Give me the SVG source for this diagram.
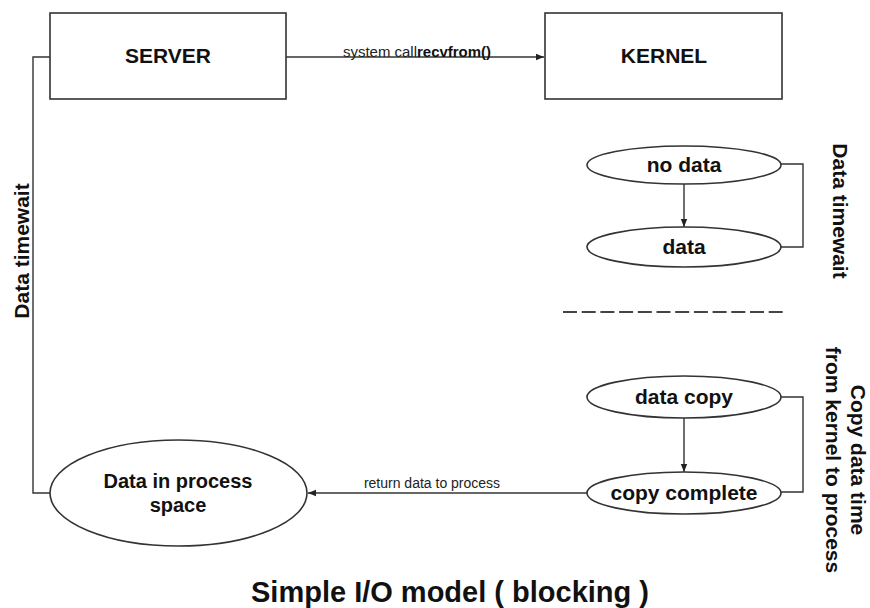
<svg xmlns="http://www.w3.org/2000/svg" width="870" height="608" viewBox="0 0 870 608">
<style>
.shape{fill:#fff;stroke:#333;stroke-width:1.6}
.line{fill:none;stroke:#333;stroke-width:1.4}
.b{font-family:"Liberation Sans",Arial,sans-serif;font-weight:bold;fill:#111}
.r{font-family:"Liberation Sans",Arial,sans-serif;fill:#222}
</style>
<defs>
<marker id="arr" viewBox="0 0 10 10" refX="10" refY="5" markerWidth="8" markerHeight="8" markerUnits="userSpaceOnUse" orient="auto">
<path d="M0,1 L10,5 L0,9 z" fill="#222"/>
</marker>
</defs>
<rect width="870" height="608" fill="#fff"/>
<g id="connectors">
<path class="line" d="M50,57 H33 V493 H50"/>
<path class="line" d="M286,57 H544" marker-end="url(#arr)"/>
<path class="line" d="M684,183 V227" marker-end="url(#arr)"/>
<path class="line" d="M781,164 H803 V247 H781"/>
<path class="line" d="M684,418 V472" marker-end="url(#arr)"/>
<path class="line" d="M781,397 H803 V492 H781"/>
<path class="line" d="M587,493 H308" marker-end="url(#arr)"/>
<line x1="563" y1="312" x2="783" y2="312" stroke="#444" stroke-width="2.2" stroke-dasharray="14,4.7"/>
<text class="r" x="343" y="57" font-size="14" textLength="148" lengthAdjust="spacingAndGlyphs">system call<tspan class="b" font-weight="bold">recvfrom()</tspan></text>
<text class="r" x="432" y="488" font-size="14" text-anchor="middle">return data to process</text>
</g>
<g id="server">
<rect class="shape" x="50" y="13" width="236" height="86"/>
<text class="b" x="168" y="63" font-size="21" text-anchor="middle">SERVER</text>
</g>
<g id="kernel">
<rect class="shape" x="545" y="13" width="237" height="86"/>
<text class="b" x="664" y="63" font-size="21" text-anchor="middle">KERNEL</text>
</g>
<g id="no-data">
<ellipse class="shape" cx="684" cy="165" rx="97" ry="19"/>
<text class="b" x="684" y="172" font-size="21" text-anchor="middle">no data</text>
</g>
<g id="data">
<ellipse class="shape" cx="684" cy="247" rx="97" ry="20"/>
<text class="b" x="684" y="254" font-size="21" text-anchor="middle">data</text>
</g>
<g id="data-copy">
<ellipse class="shape" cx="684" cy="397" rx="97" ry="21"/>
<text class="b" x="684" y="404" font-size="21" text-anchor="middle">data copy</text>
</g>
<g id="copy-complete">
<ellipse class="shape" cx="684" cy="493" rx="97" ry="21"/>
<text class="b" x="684" y="500" font-size="21" text-anchor="middle">copy complete</text>
</g>
<g id="data-in-process">
<ellipse class="shape" cx="178.5" cy="493" rx="128.5" ry="53"/>
<text class="b" x="178" y="488" font-size="20" text-anchor="middle">Data in process</text>
<text class="b" x="178" y="512" font-size="20" text-anchor="middle">space</text>
</g>
<g id="labels">
<text class="b" font-size="21" text-anchor="middle" transform="translate(29,251) rotate(-90)">Data timewait</text>
<text class="b" font-size="21" text-anchor="middle" transform="translate(833,211) rotate(90)">Data timewait</text>
<text class="b" font-size="21" text-anchor="middle" transform="translate(851,460) rotate(90)">Copy data time</text>
<text class="b" font-size="21" text-anchor="middle" transform="translate(826,460) rotate(90)">from kernel to process</text>
<text class="b" x="450" y="602" font-size="29" text-anchor="middle">Simple I/O model ( blocking )</text>
</g>
</svg>
